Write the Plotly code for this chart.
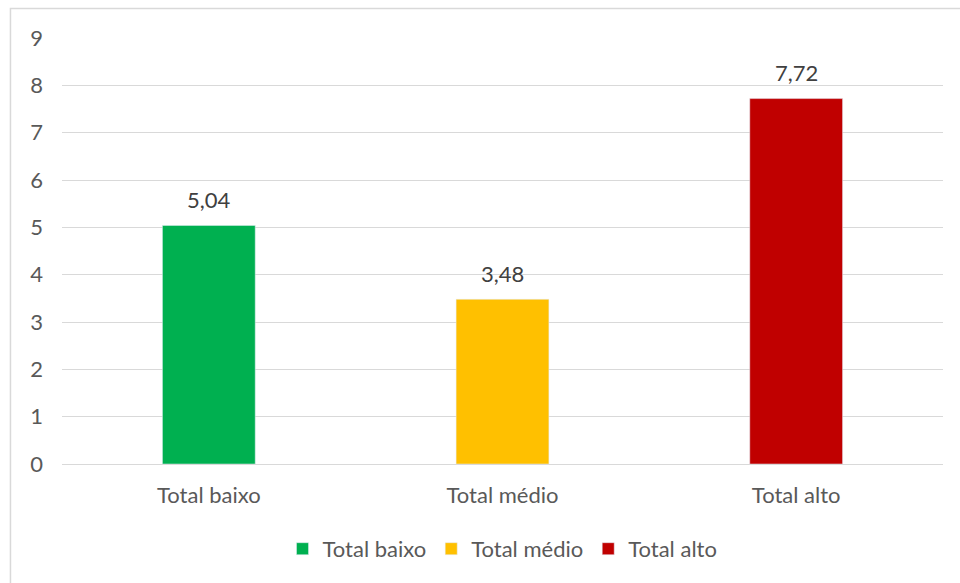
import plotly.graph_objects as go

categories = ["Total baixo", "Total médio", "Total alto"]
values = [5.04, 3.48, 7.72]
labels = ["5,04", "3,48", "7,72"]
colors = ["#00B050", "#FFC000", "#C00000"]
y_ticks = [0, 1, 2, 3, 4, 5, 6, 7, 8, 9]

FONT = "Lato, Carlito, Calibri, sans-serif"
FS = 22

fig = go.Figure()
for cat, val, col in zip(categories, values, colors):
    fig.add_trace(go.Bar(
        x=[cat], y=[val], name=cat, marker_color=col, width=0.316,
        hoverinfo="skip",
    ))
for cat, val, lab in zip(categories, values, labels):
    fig.add_annotation(x=cat, y=val, text=lab, showarrow=False,
                       yanchor="middle", yshift=26,
                       font=dict(family=FONT, size=FS, color="#404040"))

fig.update_layout(
    width=960, height=583,
    margin=dict(l=62, r=17, t=38, b=119),
    paper_bgcolor="white", plot_bgcolor="white",
    barmode="overlay",
    font=dict(family=FONT, size=FS, color="#595959"),
    showlegend=True,
    legend=dict(orientation="h", x=0.5, xanchor="center", y=-0.15, yanchor="top",
                font=dict(family=FONT, size=FS, color="#595959"),
                itemwidth=30, traceorder="normal"),
    xaxis=dict(categoryorder="array", categoryarray=categories, showgrid=False,
               showline=True, linecolor="#D9D9D9", linewidth=1, ticks="",
               ticklabelstandoff=12,
               tickfont=dict(family=FONT, size=FS, color="#595959")),
    yaxis=dict(range=[0, 9], tickvals=y_ticks, showgrid=True, gridcolor="#D9D9D9",
               gridwidth=1, zeroline=False, showline=False, ticks="",
               ticklabelstandoff=18,
               tickfont=dict(family=FONT, size=FS, color="#595959")),
    shapes=[dict(type="rect", xref="paper", yref="paper",
                 x0=-0.0585, x1=1.1, y0=-0.35, y1=1.0692,
                 line=dict(color="#D9D9D9", width=1.5), layer="below")],
)

fig.write_html("out.html")
